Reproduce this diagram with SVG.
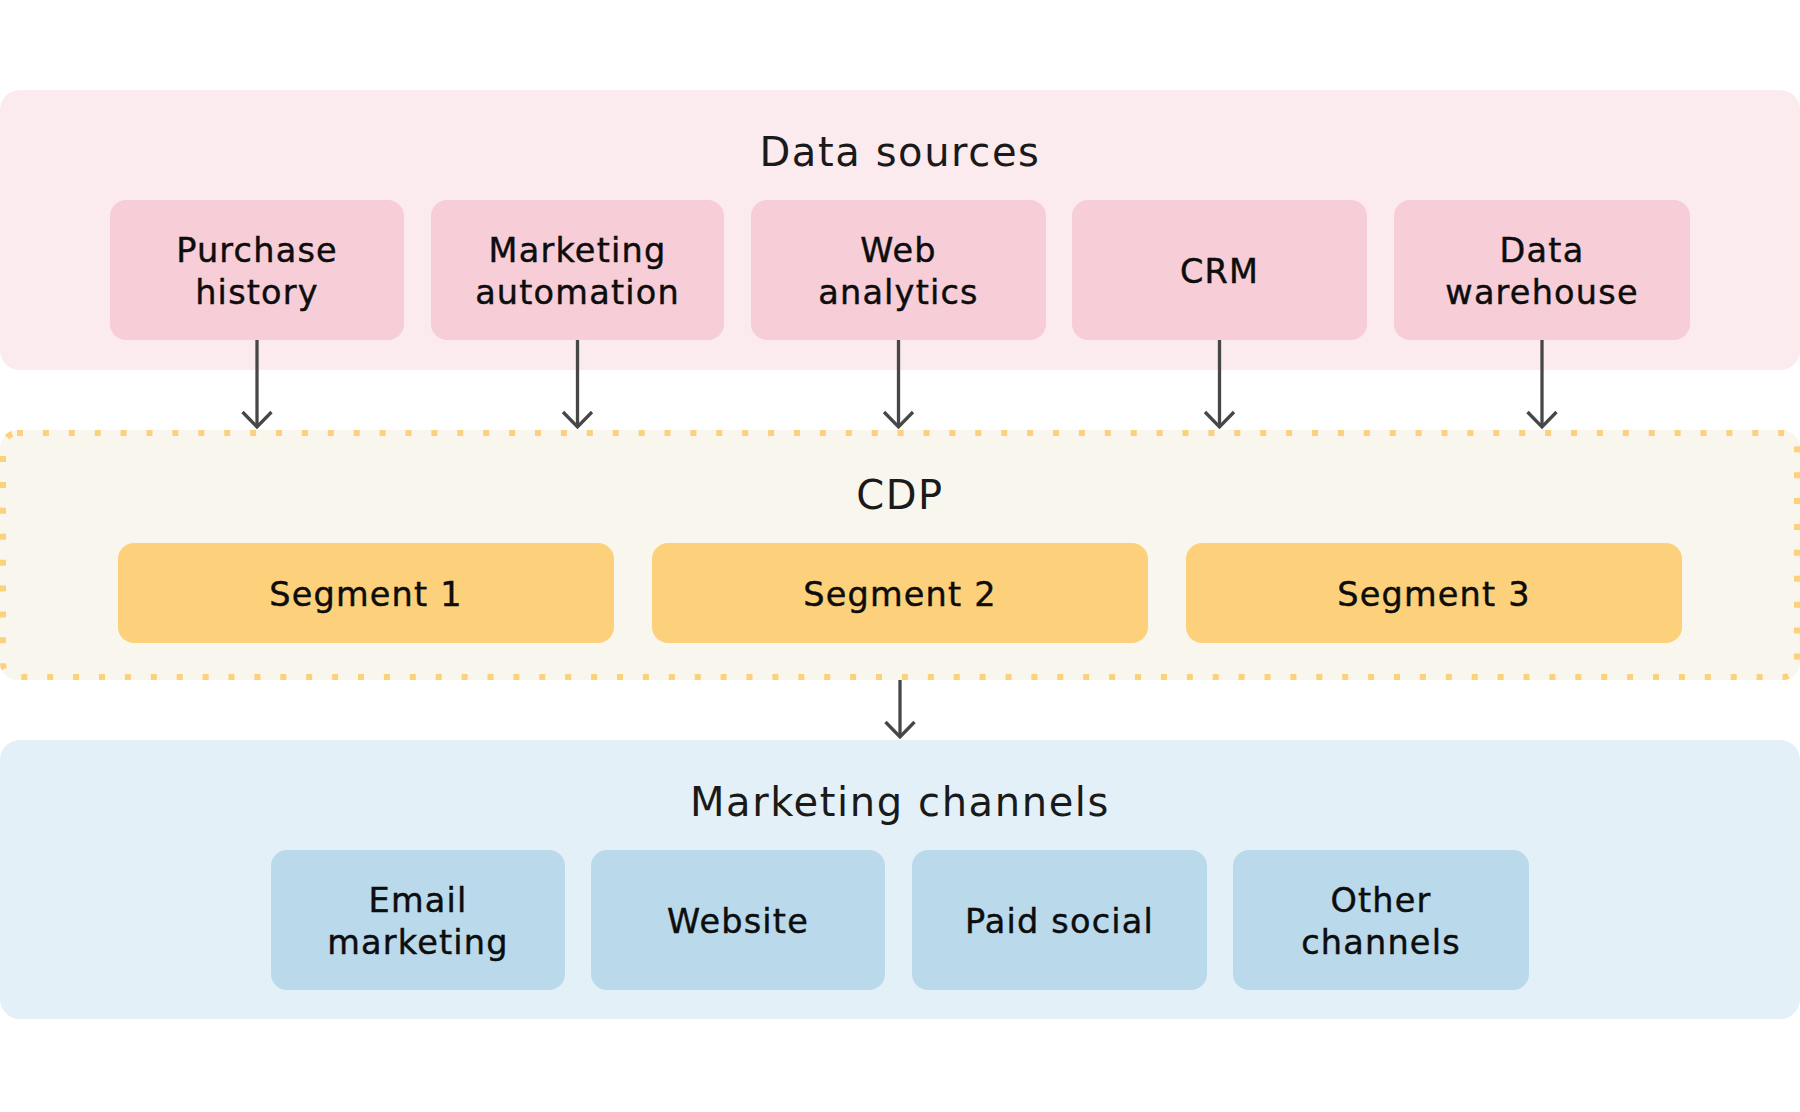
<svg xmlns="http://www.w3.org/2000/svg" width="1800" height="1112" viewBox="0 0 1800 1112">
  <style>
    .title { font-family: "DejaVu Sans", "Liberation Sans", sans-serif; font-size: 40px; fill: #1a1a1a; text-anchor: middle; letter-spacing: 1.6px; }
    .label { font-family: "DejaVu Sans", "Liberation Sans", sans-serif; font-size: 33.5px; fill: #0d0d0d; stroke: #0d0d0d; stroke-width: 0.45px; text-anchor: middle; letter-spacing: 1.2px; }
    .src { fill: #f7cdd7; }
    .seg { fill: #fdd17b; }
    .chan { fill: #bad9eb; }
    .conn { stroke: #474747; stroke-width: 3.3; fill: none; marker-end: url(#arrow); }
  </style>
  <defs>
    <marker id="arrow" markerUnits="userSpaceOnUse" markerWidth="40" markerHeight="40" viewBox="-20 -20 40 40" refX="0" refY="0" orient="auto">
      <path d="M -15 -14.5 L 0 0 L -15 14.5" fill="none" stroke="#474747" stroke-width="3.3" stroke-linejoin="miter"/>
    </marker>
  </defs>
  <rect width="1800" height="1112" fill="#ffffff"/>

  <g id="panel-data-sources">
    <rect x="0" y="90" width="1800" height="280" rx="20" fill="#fcebee"/>
    <text class="title" x="900" y="166">Data sources</text>
  </g>
  <g id="panel-cdp">
    <rect x="0" y="430" width="1800" height="250" rx="18" fill="#f9f6ee"/>
    <rect x="3" y="433" width="1794" height="244" rx="14" fill="none" stroke="#fdd07a" stroke-width="6" stroke-dasharray="6 19.9"/>
    <text class="title" x="900" y="509">CDP</text>
  </g>
  <g id="panel-marketing-channels">
    <rect x="0" y="740" width="1800" height="279" rx="20" fill="#e3f0f7"/>
    <text class="title" x="900" y="816">Marketing channels</text>
  </g>

  <g id="node-purchase-history">
    <rect class="src" x="110" y="200" width="294" height="140" rx="16"/>
    <text class="label" x="257" y="262">Purchase</text>
    <text class="label" x="257" y="304">history</text>
  </g>
  <g id="node-marketing-automation">
    <rect class="src" x="431" y="200" width="293" height="140" rx="16"/>
    <text class="label" x="577.5" y="262">Marketing</text>
    <text class="label" x="577.5" y="304">automation</text>
  </g>
  <g id="node-web-analytics">
    <rect class="src" x="751" y="200" width="295" height="140" rx="16"/>
    <text class="label" x="898.5" y="262">Web</text>
    <text class="label" x="898.5" y="304">analytics</text>
  </g>
  <g id="node-crm">
    <rect class="src" x="1072" y="200" width="295" height="140" rx="16"/>
    <text class="label" x="1219.5" y="283">CRM</text>
  </g>
  <g id="node-data-warehouse">
    <rect class="src" x="1394" y="200" width="296" height="140" rx="16"/>
    <text class="label" x="1542" y="262">Data</text>
    <text class="label" x="1542" y="304">warehouse</text>
  </g>

  <g id="node-segment-1">
    <rect class="seg" x="118" y="543" width="496" height="100" rx="16"/>
    <text class="label" x="366" y="606">Segment 1</text>
  </g>
  <g id="node-segment-2">
    <rect class="seg" x="652" y="543" width="496" height="100" rx="16"/>
    <text class="label" x="900" y="606">Segment 2</text>
  </g>
  <g id="node-segment-3">
    <rect class="seg" x="1186" y="543" width="496" height="100" rx="16"/>
    <text class="label" x="1434" y="606">Segment 3</text>
  </g>

  <g id="node-email-marketing">
    <rect class="chan" x="271" y="850" width="294" height="140" rx="16"/>
    <text class="label" x="418" y="912">Email</text>
    <text class="label" x="418" y="954">marketing</text>
  </g>
  <g id="node-website">
    <rect class="chan" x="591" y="850" width="294" height="140" rx="16"/>
    <text class="label" x="738" y="933">Website</text>
  </g>
  <g id="node-paid-social">
    <rect class="chan" x="912" y="850" width="295" height="140" rx="16"/>
    <text class="label" x="1059.5" y="933">Paid social</text>
  </g>
  <g id="node-other-channels">
    <rect class="chan" x="1233" y="850" width="296" height="140" rx="16"/>
    <text class="label" x="1381" y="912">Other</text>
    <text class="label" x="1381" y="954">channels</text>
  </g>

  <g id="connectors">
    <line class="conn" x1="257" y1="340" x2="257" y2="427"/>
    <line class="conn" x1="577.5" y1="340" x2="577.5" y2="427"/>
    <line class="conn" x1="898.5" y1="340" x2="898.5" y2="427"/>
    <line class="conn" x1="1219.5" y1="340" x2="1219.5" y2="427"/>
    <line class="conn" x1="1542" y1="340" x2="1542" y2="427"/>
    <line class="conn" x1="900" y1="680" x2="900" y2="737"/>
  </g>
</svg>
